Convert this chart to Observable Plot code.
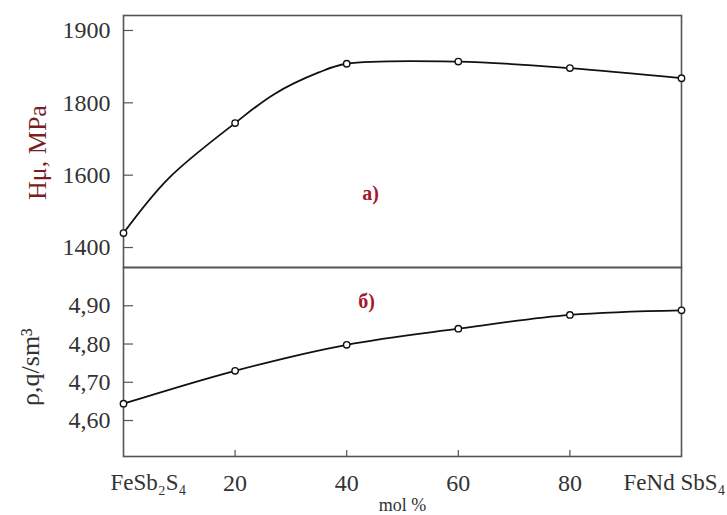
<!DOCTYPE html>
<html><head><meta charset="utf-8">
<script src="https://cdn.jsdelivr.net/npm/d3@7"></script>
<script src="https://cdn.jsdelivr.net/npm/@observablehq/plot@0.6"></script>
<style>
body{margin:0;background:#fff}
#c{position:relative;width:727px;height:515px;background:#fff}
#c svg{position:absolute;left:0}
#c svg text{font-family:"Liberation Serif","DejaVu Serif",serif}
</style>
</head><body><div id="c"></div>
<script>
const molPercent = [0, 20, 40, 60, 80, 100];
const hardness = [1440, 1744, 1854, 1857, 1848, 1834];
const hardnessCurveX = [0, 8, 20, 27, 35, 40, 60, 80, 100];
const hardnessCurveY = [1440, 1590, 1744, 1812, 1842, 1854, 1857, 1848, 1834];
const density = [4.644, 4.730, 4.798, 4.840, 4.876, 4.888];
const hardnessTicks = [1400, 1600, 1800, 1900];
const densityTicks = [4.6, 4.7, 4.8, 4.9];
const xTicks = [20, 40, 60, 80];
const endTicks = [0, 100];
const endLabels = ["FeSb₂S₄", "FeNd SbS₄"];

const frameColor = "#555";
const textColor = "#333";
const baseStyle = {fontFamily: "Liberation Serif, DejaVu Serif, serif", fontSize: "24px", color: textColor, background: "transparent", overflow: "visible"};

// the printed hardness axis is evenly spaced between its (uneven) labels
const hIndex = d3.scaleLinear().domain(hardnessTicks).range([0, 1, 2, 3]);

const hData = molPercent.map((x, i) => ({x, y: hardness[i]}));
const hCurve = hardnessCurveX.map((x, i) => ({x, y: hardnessCurveY[i]}));
const dData = molPercent.map((x, i) => ({x, y: density[i]}));

const topPlot = Plot.plot({
  width: 727, height: 268,
  marginLeft: 123, marginRight: 46, marginTop: 15, marginBottom: 1,
  style: baseStyle,
  x: {domain: [0, 100], axis: null},
  y: {domain: [-0.276, 3.207], axis: null},
  marks: [
    Plot.frame({stroke: frameColor, strokeWidth: 1.6}),
    Plot.tickY(hardnessTicks, {y: d => hIndex(d), insetRight: 548, stroke: frameColor, strokeWidth: 1.2}),
    Plot.text(hardnessTicks, {y: d => hIndex(d), text: d => String(d), frameAnchor: "left", textAnchor: "end", dx: -13, fontSize: 24, fill: textColor}),
    Plot.line(hCurve, {x: "x", y: d => hIndex(d.y), curve: "catmull-rom", stroke: "#111", strokeWidth: 1.8}),
    Plot.dot(hData, {x: "x", y: d => hIndex(d.y), r: 3.2, stroke: "#111", fill: "white", strokeWidth: 1.4}),
    Plot.text(["Hμ, MPa"], {frameAnchor: "left", rotate: -90, textAnchor: "middle", lineAnchor: "middle", dx: -86, dy: 11, fontSize: 26, fill: "#7a1f1f"}),
    Plot.text(["а)"], {frameAnchor: "middle", dx: -32, dy: 52, fontSize: 20, fontWeight: "bold", fill: "#a3172b"})
  ]
});
topPlot.style.top = "0px";

const bottomPlot = Plot.plot({
  width: 727, height: 249,
  marginLeft: 123, marginRight: 46, marginTop: 1, marginBottom: 59,
  style: baseStyle,
  x: {domain: [0, 100], axis: null},
  y: {domain: [4.506, 5.0], axis: null},
  marks: [
    Plot.frame({stroke: frameColor, strokeWidth: 1.6}),
    Plot.tickY(densityTicks, {y: d => d, insetRight: 548, stroke: frameColor, strokeWidth: 1.2}),
    Plot.tickX(xTicks, {x: d => d, insetTop: 183, stroke: frameColor, strokeWidth: 1.2}),
    Plot.text(densityTicks, {y: d => d, text: d => d.toFixed(2).replace(".", ","), frameAnchor: "left", textAnchor: "end", dx: -13, fontSize: 24, fill: textColor}),
    Plot.text(xTicks, {x: d => d, text: d => String(d), frameAnchor: "bottom", lineAnchor: "top", dy: 17, fontSize: 24, fill: textColor}),
    Plot.text(endTicks.slice(0, 1), {x: d => d, text: () => endLabels[0], frameAnchor: "bottom", lineAnchor: "top", textAnchor: "start", dx: -13, dy: 17, fontSize: 23, fill: textColor}),
    Plot.text(endTicks.slice(1), {x: d => d, text: () => endLabels[1], frameAnchor: "bottom", lineAnchor: "top", textAnchor: "end", dx: 44, dy: 17, fontSize: 23, fill: textColor}),
    Plot.line(dData, {x: "x", y: "y", curve: "catmull-rom", stroke: "#111", strokeWidth: 1.8}),
    Plot.dot(dData, {x: "x", y: "y", r: 3.2, stroke: "#111", fill: "white", strokeWidth: 1.4}),
    Plot.text(["ρ,q/sm³"], {frameAnchor: "left", rotate: -90, textAnchor: "middle", lineAnchor: "middle", dx: -93, dy: 5, fontSize: 26, fill: textColor}),
    Plot.text(["б)"], {frameAnchor: "middle", dx: -36, dy: -60, fontSize: 20, fontWeight: "bold", fill: "#a3172b"}),
    Plot.text(["mol %"], {frameAnchor: "bottom", lineAnchor: "middle", dy: 49, fontSize: 18, fill: textColor})
  ]
});
bottomPlot.style.top = "266px";

const c = document.getElementById("c");
c.appendChild(topPlot);
c.appendChild(bottomPlot);
</script>
</body></html>
